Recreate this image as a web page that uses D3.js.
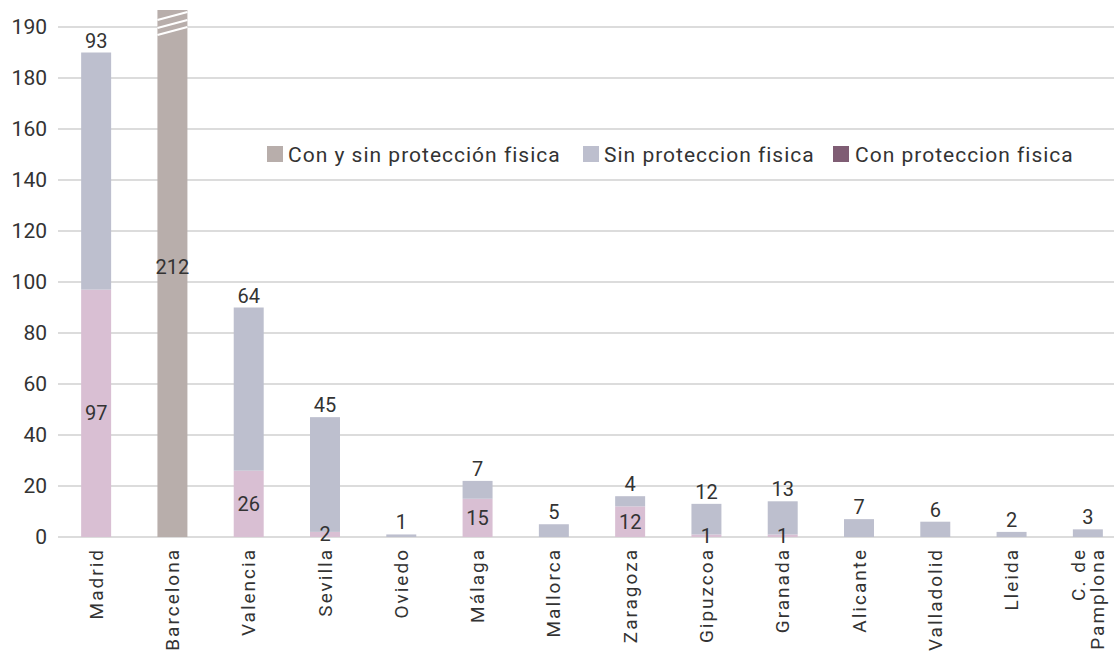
<!DOCTYPE html>
<html>
<head>
<meta charset="utf-8">
<script src="https://cdn.jsdelivr.net/npm/d3@7"></script>
<style>
  body { margin: 0; background: #fff; }
  svg { display: block; font-family: Roboto, "DejaVu Sans", sans-serif; }
</style>
</head>
<body>
<svg id="chart" width="1114" height="653"></svg>
<script>
const categories = ["Madrid","Barcelona","Valencia","Sevilla","Oviedo","Málaga","Mallorca","Zaragoza","Gipuzcoa","Granada","Alicante","Valladolid","Lleida","C. de Pamplona"];
const conProteccion = [97,0,26,2,0,15,0,12,1,1,0,0,0,0];
const sinProteccion = [93,0,64,45,1,7,5,4,12,13,7,6,2,3];
const conYSin = [0,212,0,0,0,0,0,0,0,0,0,0,0,0];
const seriesNames = ["Con y sin protección fisica","Sin proteccion fisica","Con proteccion fisica"];
const tickValues = [0,20,40,60,80,100,120,140,160,180,200];
const tickLabels = ["0","20","40","60","80","100","120","140","160","180","190"];

const colors = { con: "#d9bfd3", sin: "#bdbfce", conSin: "#b8aeab", conLegend: "#7f5d74" };
const textColor = "#333";

const svg = d3.select("#chart");
const rows = categories.map((c, i) => ({ cat: c, con: conProteccion[i], sin: sinProteccion[i], conSin: conYSin[i] }));
const keys = ["con", "sin", "conSin"];
const stacked = d3.stack().keys(keys)(rows);

const x = d3.scaleBand().domain(categories).range([58, 1126]).paddingInner(0.607).paddingOuter(0.3035);
const y = d3.scaleLinear().domain([0, 200]).range([537, 27]);

// gridlines
svg.append("g").selectAll("line").data(tickValues).join("line")
  .attr("x1", 58).attr("x2", 1114)
  .attr("y1", d => y(d)).attr("y2", d => y(d))
  .attr("stroke", "#dcdcdc").attr("stroke-width", 2);

// y tick labels
svg.append("g").selectAll("text").data(tickValues).join("text")
  .attr("x", 47).attr("y", d => y(d))
  .attr("text-anchor", "end").attr("dominant-baseline", "central")
  .attr("font-size", 21).attr("fill", textColor)
  .text((d, i) => tickLabels[i]);

// clip
svg.append("defs").append("clipPath").attr("id", "plotClip")
  .append("rect").attr("x", 0).attr("y", 10).attr("width", 1114).attr("height", 600);

const barsG = svg.append("g").attr("clip-path", "url(#plotClip)");
stacked.forEach(s => {
  barsG.append("g").selectAll("rect").data(s.filter(d => d[1] - d[0] > 0)).join("rect")
    .attr("x", d => x(d.data.cat))
    .attr("width", x.bandwidth())
    .attr("y", d => y(d[1]))
    .attr("height", d => y(d[0]) - y(d[1]))
    .attr("fill", colors[s.key]);
});

// break marks on clipped bars
const topY = 10;
rows.filter(r => y(r.con + r.sin + r.conSin) < topY).forEach(r => {
  const x0 = x(r.cat), x1 = x0 + x.bandwidth();
  [0, 8, 15].forEach(off => {
    barsG.append("line")
      .attr("x1", x0).attr("y1", topY + 10 + off)
      .attr("x2", x1).attr("y2", topY + 2 + off)
      .attr("stroke", "#fff").attr("stroke-width", 2.2);
  });
});

// labels
const lbl = svg.append("g").attr("font-size", 20).attr("fill", textColor).attr("text-anchor", "middle");
rows.forEach(r => {
  const cx = x(r.cat) + x.bandwidth() / 2;
  if (r.con > 0) {
    lbl.append("text").attr("x", cx).attr("y", y(r.con / 2)).attr("dominant-baseline", "central").text(r.con);
  }
  if (r.sin > 0) {
    lbl.append("text").attr("x", cx).attr("y", y(r.con + r.sin) - 5).text(r.sin);
  }
  if (r.conSin > 0) {
    lbl.append("text").attr("x", cx).attr("y", y(r.conSin / 2)).attr("dominant-baseline", "central").text(r.conSin);
  }
});

// category labels
const catG = svg.append("g").attr("font-size", 19).attr("fill", textColor).attr("letter-spacing", 2);
categories.forEach(c => {
  const cx = x(c) + x.bandwidth() / 2;
  const parts = c === "C. de Pamplona" ? ["C. de", "Pamplona"] : [c];
  const lineH = 19;
  parts.forEach((p, j) => {
    const off = (j - (parts.length - 1) / 2) * lineH;
    catG.append("text")
      .attr("transform", `translate(${cx + off},548) rotate(-90)`)
      .attr("text-anchor", "end").attr("dominant-baseline", "central")
      .text(p);
  });
});

// legend
const legendItems = [
  { name: seriesNames[0], color: colors.conSin, sx: 267, tx: 288 },
  { name: seriesNames[1], color: colors.sin, sx: 583, tx: 604 },
  { name: seriesNames[2], color: colors.conLegend, sx: 833, tx: 855 }
];
const lg = svg.append("g");
legendItems.forEach(it => {
  lg.append("rect").attr("x", it.sx).attr("y", 146).attr("width", 16).attr("height", 16).attr("fill", it.color);
  lg.append("text").attr("x", it.tx).attr("y", 155).attr("dominant-baseline", "central")
    .attr("font-size", 21).attr("letter-spacing", 1).attr("fill", textColor).text(it.name);
});
</script>
</body>
</html>
